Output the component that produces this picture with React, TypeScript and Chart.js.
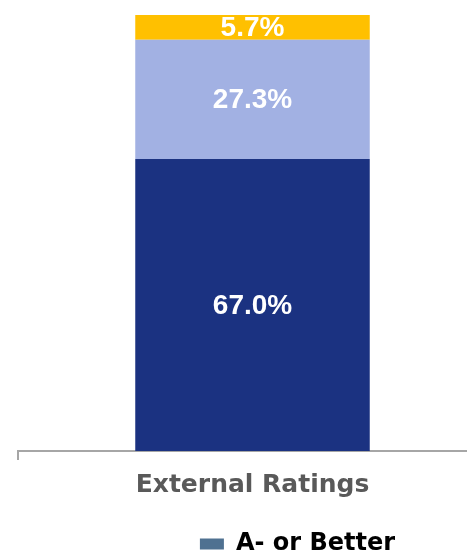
import React, { useEffect, useRef } from "react";
import { Chart, registerables } from "chart.js";

Chart.register(...registerables);

const categories = ["External Ratings"];
const seriesNames = ["A- or Better", "BBB", "Below BBB"];
const aOrBetter = [67.0];
const bbbRange = [27.3];
const belowBbb = [5.7];
const barColors = ["#1B3281", "#A2B1E3", "#FFC000"];
const legendBoxColor = "#4F7191";

const valueLabels = {
  id: "valueLabels",
  afterDatasetsDraw(chart: any) {
    const ctx = chart.ctx;
    ctx.save();
    ctx.fillStyle = "#FFFFFF";
    ctx.font = "bold 28px 'Liberation Sans', Arial, sans-serif";
    ctx.textAlign = "center";
    ctx.textBaseline = "middle";
    chart.data.datasets.forEach((ds: any, di: number) => {
      const meta = chart.getDatasetMeta(di);
      meta.data.forEach((el: any, i: number) => {
        const { x, y, base } = el.getProps(["x", "y", "base"], true);
        const v = ds.data[i];
        ctx.fillText(v.toFixed(1) + "%", x, (y + base) / 2 + 1);
      });
    });
    ctx.restore();
  },
};

export default function App() {
  const ref = useRef<HTMLCanvasElement>(null);
  useEffect(() => {
    if (!ref.current) return;
    const chart = new Chart(ref.current, {
      type: "bar",
      data: {
        labels: categories,
        datasets: [
          { label: seriesNames[0], data: aOrBetter, backgroundColor: barColors[0] },
          { label: seriesNames[1], data: bbbRange, backgroundColor: barColors[1] },
          { label: seriesNames[2], data: belowBbb, backgroundColor: barColors[2] },
        ],
      },
      options: {
        animation: false,
        responsive: true,
        maintainAspectRatio: false,
        datasets: { bar: { categoryPercentage: 1, barPercentage: 0.5 } },
        layout: { padding: { top: 15, left: 18, right: 0, bottom: 0 } },
        scales: {
          x: {
            stacked: true,
            grid: {
              offset: true,
              drawOnChartArea: false,
              drawTicks: true,
              tickLength: 9,
              color: "#A6A6A6",
              lineWidth: 2,
            },
            border: { display: true, color: "#A6A6A6", width: 2 },
            ticks: {
              color: "#595959",
              padding: 10,
              font: { family: "'DejaVu Sans'", size: 25, weight: "bold" },
            },
          },
          y: {
            stacked: true,
            position: "right",
            min: 0,
            max: 100,
            grid: { display: false },
            border: { display: false },
            ticks: { display: false },
            afterFit: (scale: any) => {
              scale.width = 90;
            },
          },
        },
        plugins: {
          tooltip: { enabled: false },
          legend: {
            position: "bottom",
            labels: {
              padding: 22,
              boxWidth: 24,
              boxHeight: 11,
              color: "#000000",
              font: { family: "'DejaVu Sans'", size: 24, weight: "bold" },
              filter: (item: any) => item.datasetIndex === 0,
              generateLabels: (c: any) =>
                c.data.datasets.map((ds: any, i: number) => ({
                  text: ds.label,
                  fillStyle: i === 0 ? legendBoxColor : ds.backgroundColor,
                  strokeStyle: "transparent",
                  lineWidth: 0,
                  hidden: false,
                  datasetIndex: i,
                  fontColor: "#000000",
                })),
            },
          },
        },
      },
      plugins: [valueLabels],
    });
    return () => chart.destroy();
  }, []);
  return (
    <div
      style={{
        position: "fixed",
        left: 0,
        top: 0,
        width: 467,
        height: 554,
        overflow: "hidden",
        background: "#FFFFFF",
      }}
    >
      <div style={{ position: "relative", width: 577, height: 566 }}>
        <canvas ref={ref} />
      </div>
    </div>
  );
}
